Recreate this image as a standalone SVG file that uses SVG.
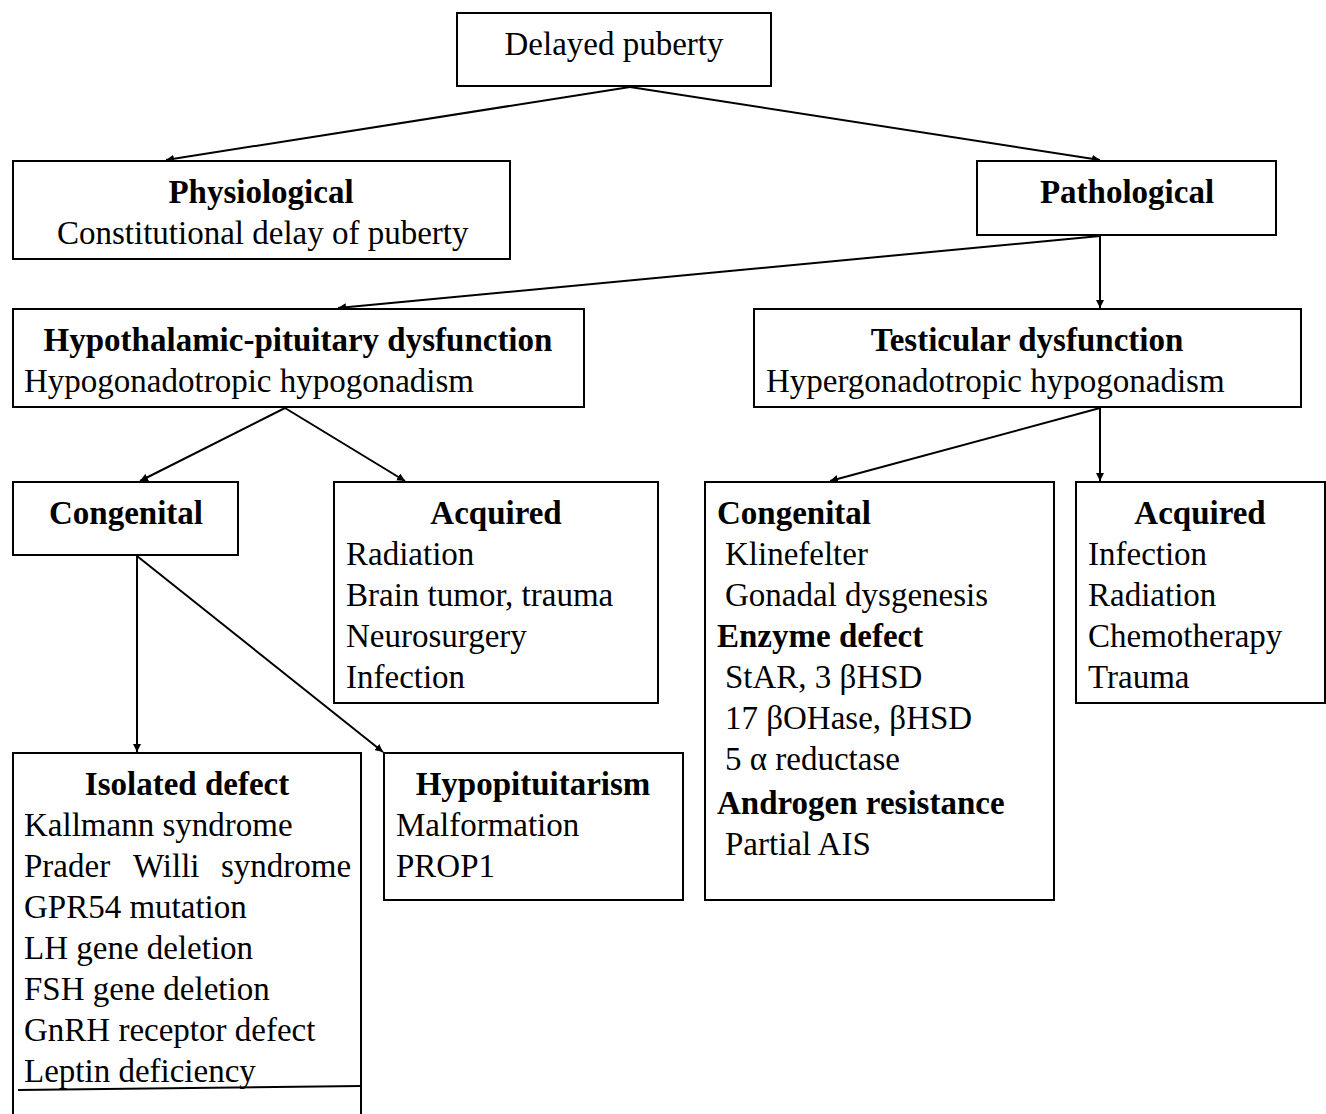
<svg xmlns="http://www.w3.org/2000/svg" width="1326" height="1114" viewBox="0 0 1326 1114">
<defs>
<style>
.box{fill:#fff;stroke:#000;stroke-width:2}
.t{font-family:"Liberation Serif","Times New Roman",serif;font-size:33px;fill:#000}
.b{font-weight:bold}
.m{text-anchor:middle}
.c{stroke:#000;stroke-width:2;fill:none}
</style>
<marker id="ah" viewBox="0 0 10 10" refX="10" refY="5" markerWidth="8" markerHeight="8" markerUnits="userSpaceOnUse" orient="auto">
<path d="M0,0 L10,5 L0,10 z" fill="#000"/>
</marker>
</defs>
<rect width="1326" height="1114" fill="#fff"/>
<g id="connectors">
<line class="c" x1="630" y1="87" x2="166" y2="160" marker-end="url(#ah)"/>
<line class="c" x1="630" y1="87" x2="1100" y2="160" marker-end="url(#ah)"/>
<line class="c" x1="1100" y1="236" x2="338" y2="308" marker-end="url(#ah)"/>
<line class="c" x1="1100" y1="236" x2="1100" y2="308" marker-end="url(#ah)"/>
<line class="c" x1="285" y1="408" x2="140" y2="481" marker-end="url(#ah)"/>
<line class="c" x1="285" y1="408" x2="405" y2="481" marker-end="url(#ah)"/>
<line class="c" x1="1100" y1="408" x2="830" y2="481" marker-end="url(#ah)"/>
<line class="c" x1="1100" y1="408" x2="1100" y2="481" marker-end="url(#ah)"/>
<line class="c" x1="137" y1="556" x2="137" y2="752" marker-end="url(#ah)"/>
<line class="c" x1="137" y1="556" x2="383" y2="752" marker-end="url(#ah)"/>
</g>
<g id="n-delayed">
<rect class="box" x="457" y="13" width="314" height="73"/>
<text class="t m" x="614" y="55">Delayed puberty</text>
</g>
<g id="n-physiological">
<rect class="box" x="13" y="161" width="497" height="98"/>
<text class="t b m" x="261" y="203">Physiological</text>
<text class="t" x="57" y="244">Constitutional delay of puberty</text>
</g>
<g id="n-pathological">
<rect class="box" x="977" y="161" width="299" height="74"/>
<text class="t b m" x="1127" y="203">Pathological</text>
</g>
<g id="n-hypothalamic">
<rect class="box" x="13" y="309" width="571" height="98"/>
<text class="t b m" x="298" y="351">Hypothalamic-pituitary dysfunction</text>
<text class="t" x="24" y="392">Hypogonadotropic hypogonadism</text>
</g>
<g id="n-testicular">
<rect class="box" x="754" y="309" width="547" height="98"/>
<text class="t b m" x="1027" y="351">Testicular dysfunction</text>
<text class="t" x="766" y="392">Hypergonadotropic hypogonadism</text>
</g>
<g id="n-congenital-left">
<rect class="box" x="13" y="482" width="225" height="73"/>
<text class="t b m" x="126" y="524">Congenital</text>
</g>
<g id="n-acquired-mid">
<rect class="box" x="334" y="482" width="324" height="221"/>
<text class="t b m" x="496" y="524">Acquired</text>
<text class="t" x="346" y="565">Radiation</text>
<text class="t" x="346" y="606">Brain tumor, trauma</text>
<text class="t" x="346" y="647">Neurosurgery</text>
<text class="t" x="346" y="688">Infection</text>
</g>
<g id="n-congenital-right">
<rect class="box" x="705" y="482" width="349" height="418"/>
<text class="t b" x="717" y="524">Congenital</text>
<text class="t" x="725" y="565">Klinefelter</text>
<text class="t" x="725" y="606">Gonadal dysgenesis</text>
<text class="t b" x="717" y="647">Enzyme defect</text>
<text class="t" x="725" y="688">StAR, 3 βHSD</text>
<text class="t" x="725" y="729">17 βOHase, βHSD</text>
<text class="t" x="725" y="770">5 α reductase</text>
<text class="t b" x="717" y="814">Androgen resistance</text>
<text class="t" x="725" y="855">Partial AIS</text>
</g>
<g id="n-acquired-right">
<rect class="box" x="1076" y="482" width="249" height="221"/>
<text class="t b m" x="1200" y="524">Acquired</text>
<text class="t" x="1088" y="565">Infection</text>
<text class="t" x="1088" y="606">Radiation</text>
<text class="t" x="1088" y="647">Chemotherapy</text>
<text class="t" x="1088" y="688">Trauma</text>
</g>
<g id="n-isolated">
<path class="c" d="M13,1114 V753 H361 V1114"/>
<line class="c" x1="18" y1="1090" x2="361" y2="1086"/>
<text class="t b m" x="187" y="795">Isolated defect</text>
<text class="t" x="24" y="836">Kallmann syndrome</text>
<text class="t" y="877"><tspan x="24">Prader</tspan><tspan x="133">Willi</tspan><tspan x="221">syndrome</tspan></text>
<text class="t" x="24" y="918">GPR54 mutation</text>
<text class="t" x="24" y="959">LH gene deletion</text>
<text class="t" x="24" y="1000">FSH gene deletion</text>
<text class="t" x="24" y="1041">GnRH receptor defect</text>
<text class="t" x="24" y="1082">Leptin deficiency</text>
</g>
<g id="n-hypopituitarism">
<rect class="box" x="384" y="753" width="299" height="147"/>
<text class="t b m" x="533" y="795">Hypopituitarism</text>
<text class="t" x="396" y="836">Malformation</text>
<text class="t" x="396" y="877">PROP1</text>
</g>
</svg>
